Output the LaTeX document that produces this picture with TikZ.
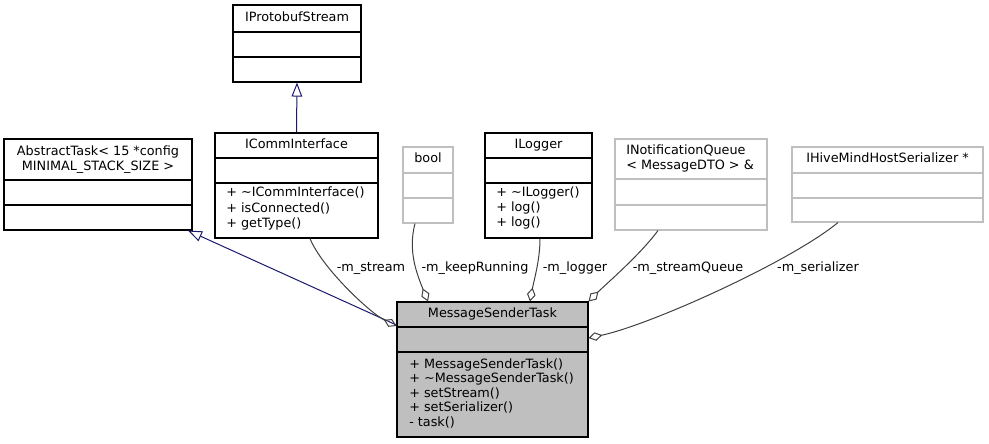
\documentclass[tikz,border=0pt]{standalone}
\usepackage{fontspec}
\setmainfont{DejaVu Sans}
\usetikzlibrary{arrows.meta,fit}
\definecolor{boxgray}{HTML}{BFBFBF}
\definecolor{edgegray}{HTML}{404040}
\definecolor{inhblue}{HTML}{191970}
\begin{document}
\begin{tikzpicture}[x=0.75pt,y=-0.75pt,
  cls/.style={draw=black,line width=0.8pt,inner sep=0pt},
  gcls/.style={draw=boxgray,line width=0.8pt,inner sep=0pt},
  cur/.style={draw=black,fill=boxgray,line width=0.8pt,inner sep=0pt},
  divk/.style={draw=black,line width=0.8pt},
  divg/.style={draw=boxgray,line width=0.8pt},
  txt/.style={font=\fontsize{9.6}{11}\selectfont,inner sep=0pt,text height=7.2pt,text depth=1.3pt},
  inh/.style={draw=inhblue,line width=0.75pt,-{Triangle[open,length=10.5pt,width=8pt]}},
  agg/.style={draw=edgegray,line width=0.75pt,{Diamond[open,length=10.5pt,width=6.5pt]}-},
  lbl/.style={font=\fontsize{9.6}{11}\selectfont,inner sep=0pt,text height=7.2pt,text depth=1.3pt}]
\useasboundingbox (0,0) rectangle (989,443);

% AbstractTask
\node[cls,fit={(4,139) (192,230)}] (abs) {};
\draw[divk] (abs.west |- 0,180) -- (abs.east |- 0,180);
\draw[divk] (abs.west |- 0,205) -- (abs.east |- 0,205);
\node[txt] (absT1) at (abs.north |- 0,152) {AbstractTask< 15 *config};
\node[txt] (absT2) at (abs.north |- 0,167) {MINIMAL\_STACK\_SIZE >};

% IProtobufStream
\node[cls,fit={(233,5) (361,82)}] (iproto) {};
\draw[divk] (iproto.west |- 0,32) -- (iproto.east |- 0,32);
\draw[divk] (iproto.west |- 0,57) -- (iproto.east |- 0,57);
\node[txt] (iprotoT) at (iproto.north |- 0,18) {IProtobufStream};

% ICommInterface
\node[cls,fit={(215,133) (378,238)}] (icomm) {};
\draw[divk] (icomm.west |- 0,158) -- (icomm.east |- 0,158);
\draw[divk] (icomm.west |- 0,183) -- (icomm.east |- 0,183);
\node[txt] (icommT) at (icomm.north |- 0,145) {ICommInterface};
\node[txt,anchor=west] (icommM1) at (226,193) {+ \textasciitilde ICommInterface()};
\node[txt,anchor=west] (icommM2) at (226,209) {+ isConnected()};
\node[txt,anchor=west] (icommM3) at (226,224) {+ getType()};

% bool
\node[gcls,fit={(403,147) (453,223)}] (bool) {};
\draw[divg] (bool.west |- 0,173) -- (bool.east |- 0,173);
\draw[divg] (bool.west |- 0,198) -- (bool.east |- 0,198);
\node[txt] (boolT) at (bool.north |- 0,159) {bool};

% ILogger
\node[cls,fit={(485,133) (592,238)}] (ilog) {};
\draw[divk] (ilog.west |- 0,158) -- (ilog.east |- 0,158);
\draw[divk] (ilog.west |- 0,183) -- (ilog.east |- 0,183);
\node[txt] (ilogT) at (ilog.north |- 0,145) {ILogger};
\node[txt,anchor=west] (ilogM1) at (496,193) {+ \textasciitilde ILogger()};
\node[txt,anchor=west] (ilogM2) at (496,208) {+ log()};
\node[txt,anchor=west] (ilogM3) at (496,223) {+ log()};

% INotificationQueue
\node[gcls,fit={(615,139) (767,230)}] (inq) {};
\draw[divg] (inq.west |- 0,179) -- (inq.east |- 0,179);
\draw[divg] (inq.west |- 0,205) -- (inq.east |- 0,205);
\node[txt,anchor=west] (inqT1) at (626,151) {INotificationQueue};
\node[txt,anchor=west] (inqT2) at (626,166) {< MessageDTO > \&};

% IHiveMindHostSerializer
\node[gcls,fit={(792,147) (983,222)}] (ser) {};
\draw[divg] (ser.west |- 0,173) -- (ser.east |- 0,173);
\draw[divg] (ser.west |- 0,198) -- (ser.east |- 0,198);
\node[txt] (serT) at (ser.north |- 0,159) {IHiveMindHostSerializer *};

% MessageSenderTask
\node[cur,fit={(397,302) (588,437)}] (mst) {};
\draw[divk] (mst.west |- 0,327) -- (mst.east |- 0,327);
\draw[divk] (mst.west |- 0,352) -- (mst.east |- 0,352);
\node[txt] (mstT) at (mst.north |- 0,314) {MessageSenderTask};
\node[txt,anchor=west] (mstM1) at (409,365) {+ MessageSenderTask()};
\node[txt,anchor=west] (mstM2) at (409,379) {+ \textasciitilde MessageSenderTask()};
\node[txt,anchor=west] (mstM3) at (409,394) {+ setStream()};
\node[txt,anchor=west] (mstM4) at (409,408) {+ setSerializer()};
\node[txt,anchor=west] (mstM5) at (409,423) {- task()};

% inheritance
\draw[inh] (icomm.north) -- (iproto.south);
\draw[inh] (mst.west |- 0,325) -- (188,0 |- abs.south);

% aggregations
\draw[agg] (mst.west |- 0,326) .. controls (370,313) and (322,268) .. (310,0 |- icomm.south);
\draw[agg] (428,0 |- mst.north) .. controls (416,272) and (408,250) .. (415,0 |- bool.south);
\draw[agg] (530,0 |- mst.north) .. controls (534,280) and (540,260) .. (540,0 |- ilog.south);
\draw[agg] (mst.north east) .. controls (605,285) and (640,255) .. (658,0 |- inq.south);
\draw[agg] (mst.east |- 0,338) .. controls (650,325) and (790,262) .. (838,0 |- ser.south);

% labels
\node[lbl] (lStream) at (371,268) {-m\_stream};
\node[lbl] (lKeep) at (475,268) {-m\_keepRunning};
\node[lbl] (lLog) at (575,268) {-m\_logger};
\node[lbl] (lQueue) at (688,268) {-m\_streamQueue};
\node[lbl] (lSer) at (818,268) {-m\_serializer};
\end{tikzpicture}
\end{document}
